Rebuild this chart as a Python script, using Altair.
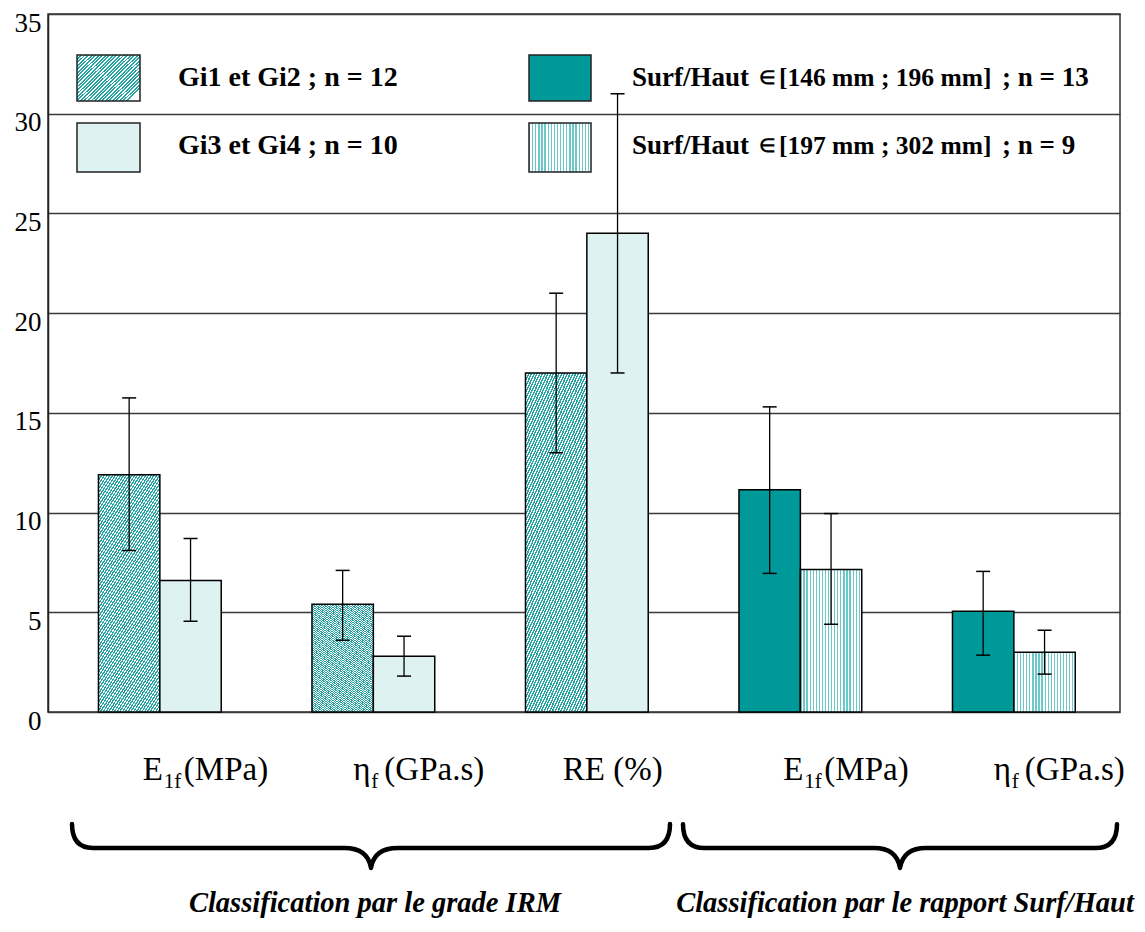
import altair as alt
import pandas as pd

# ---------------- data ----------------
groups = ["E1f_IRM", "eta_IRM", "RE_IRM", "E1f_SH", "eta_SH"]

series_names = [
    "Gi1 et Gi2 ; n = 12",
    "Gi3 et Gi4 ; n = 10",
    "Surf/Haut ∈ [146 mm ; 196 mm] ; n = 13",
    "Surf/Haut ∈ [197 mm ; 302 mm] ; n = 9",
]
series_groups = [groups[0:3], groups[0:3], groups[3:5], groups[3:5]]
series_slot = ["a", "b", "a", "b"]

gi12_mean = [11.9, 5.4, 17.0]
gi12_low = [8.1, 3.6, 13.0]
gi12_high = [15.75, 7.1, 21.0]

gi34_mean = [6.6, 2.8, 24.0]
gi34_low = [4.55, 1.8, 17.0]
gi34_high = [8.7, 3.8, 31.0]

sh1_mean = [11.15, 5.05]
sh1_low = [6.95, 2.85]
sh1_high = [15.3, 7.05]

sh2_mean = [7.15, 3.0]
sh2_low = [4.4, 1.9]
sh2_high = [9.95, 4.1]

means = [gi12_mean, gi34_mean, sh1_mean, sh2_mean]
lows = [gi12_low, gi34_low, sh1_low, sh2_low]
highs = [gi12_high, gi34_high, sh1_high, sh2_high]

y_ticks = [0, 5, 10, 15, 20, 25, 30, 35]

xlabel_main = ["E", "η", "RE (%)", "E", "η"]
xlabel_sub = ["1f", "f", "", "1f", "f"]
xlabel_unit = ["(MPa)", "(GPa.s)", "", "(MPa)", "(GPa.s)"]

legend_left = ["Gi1 et Gi2 ; n = 12", "Gi3 et Gi4 ; n = 10"]
legend_right_head = ["Surf/Haut", "Surf/Haut"]
legend_right_sym = ["∈", "∈"]
legend_right_range = ["[146 mm ; 196 mm]", "[197 mm ; 302 mm]"]
legend_right_n = ["; n = 13", "; n = 9"]

brace_labels = ["Classification par le grade IRM",
                "Classification par le rapport Surf/Haut"]

rows = []
for s, name in enumerate(series_names):
    for j, g in enumerate(series_groups[s]):
        rows.append({"series": name, "group": g, "slot": series_slot[s],
                     "mean": means[s][j], "low": lows[s][j], "high": highs[s][j]})
df = pd.DataFrame(rows)

# ---------------- styles ----------------
FONT = "Liberation Serif, Liberation Sans"
TEAL = "#009999"


def stripes(c1, c2, period, frac, x2, y2, tmax):
    stops = []
    t = 0.0
    while t < tmax:
        a = round(t, 5)
        b = round(min(t + period * frac, 1.0), 5)
        c = round(min(t + period, 1.0), 5)
        stops += [{"offset": a, "color": c1}, {"offset": b, "color": c1},
                  {"offset": b, "color": c2}, {"offset": c, "color": c2}]
        t += period
    return {"gradient": "linear", "x1": 0, "y1": 0, "x2": x2, "y2": y2, "stops": stops}


diag_bar = stripes("#26a3a3", "#ffffff", 0.0062, 0.55, 1, 2.5, 0.5)
diag_leg = stripes("#26a3a3", "#ffffff", 0.036, 0.55, 1, 0.75, 1.0)
vert_fill = stripes("#6cc9c9", "#ffffff", 0.05, 0.4, 1, 0, 1.0)
bar_fills = [diag_bar, "#def2f2", TEAL, vert_fill]
leg_fills = [diag_leg, "#def2f2", TEAL, vert_fill]

xscale = alt.Scale(type="band", domain=groups, paddingInner=0.425,
                   paddingOuter=0.223, align=0.53)
yscale = alt.Scale(domain=[0, 35], nice=False, zero=True)
yaxis = alt.Axis(values=y_ticks, grid=True, gridColor="#3a3a3a", gridWidth=1.3,
                 domainColor="#222222", domainWidth=1.5, ticks=False,
                 labelFont=FONT, labelFontSize=27, labelColor="black",
                 labelPadding=7, labelBaseline="middle", labelOffset=9, title=None)
X = alt.X("group:N", scale=xscale, axis=None)
XO = alt.XOffset("slot:N", scale=alt.Scale(domain=["a", "b"], paddingInner=0, paddingOuter=0))

layers = []

# bars
for s, name in enumerate(series_names):
    d = df[df["series"] == name]
    layers.append(
        alt.Chart(d).mark_bar(fill=bar_fills[s], stroke="black", strokeWidth=1.5)
        .encode(x=X, xOffset=XO, y=alt.Y("mean:Q", scale=yscale, axis=yaxis))
    )

# error bars
layers.append(
    alt.Chart(df).mark_rule(color="black", strokeWidth=1.3)
    .encode(x=X, xOffset=XO, y=alt.Y("low:Q", scale=yscale, axis=yaxis), y2="high:Q")
)
for f in ["low", "high"]:
    layers.append(
        alt.Chart(df).mark_tick(color="black", thickness=1.5, size=14, opacity=1)
        .encode(x=X, xOffset=XO, y=alt.Y(f + ":Q", scale=yscale, axis=yaxis))
    )

# x category labels (with subscripts)
offsets = {"E": (-17, 4, 24), "η": (-20, -2, 11), "RE (%)": (-24, 0, 0)}
for i, g in enumerate(groups):
    o = offsets[xlabel_main[i]]
    pieces = [(xlabel_main[i], o[0], 33, 766), (xlabel_sub[i], o[1], 21, 774),
              (xlabel_unit[i], o[2], 33, 766)]
    for txt, dx, fs, yy in pieces:
        if not txt:
            continue
        layers.append(
            alt.Chart(pd.DataFrame({"group": [g], "t": [txt]}))
            .mark_text(align="left", baseline="alphabetic", dx=dx, font=FONT,
                       fontSize=fs, color="black")
            .encode(x=X, y=alt.value(yy), text="t:N")
        )

# legend (drawn inside plot area)
leg_rows_y = [(41, 87, 64), (109, 158, 132)]
for k in range(2):
    y1, y2, yt = leg_rows_y[k]
    # left column
    layers.append(
        alt.Chart(pd.DataFrame({"t": [legend_left[k]]}))
        .mark_rect(fill=leg_fills[k], stroke="#222222", strokeWidth=1.5)
        .encode(x=alt.value(29), x2=alt.value(92), y=alt.value(y1), y2=alt.value(y2))
    )
    layers.append(
        alt.Chart(pd.DataFrame({"t": [legend_left[k]]}))
        .mark_text(align="left", baseline="middle", font=FONT, fontSize=28,
                   fontWeight="bold", color="black")
        .encode(x=alt.value(130), y=alt.value(yt), text="t:N")
    )
    # right column
    layers.append(
        alt.Chart(pd.DataFrame({"t": [legend_right_head[k]]}))
        .mark_rect(fill=leg_fills[k + 2], stroke="#222222", strokeWidth=1.5)
        .encode(x=alt.value(481), x2=alt.value(543), y=alt.value(y1), y2=alt.value(y2))
    )
    for txt, xx, fs in [(legend_right_head[k], 584, 27),
                        (legend_right_sym[k], 711, 19),
                        (legend_right_range[k], 731, 25.5),
                        (legend_right_n[k], 954, 27)]:
        layers.append(
            alt.Chart(pd.DataFrame({"t": [txt]}))
            .mark_text(align="left", baseline="middle", font=FONT, fontSize=fs,
                       fontWeight="bold", color="black")
            .encode(x=alt.value(xx), y=alt.value(yt), text="t:N")
        )

# curly braces under the groups
brace1 = "M-1,-0.08 Q-1,0 -0.93,0 L-0.09,0 Q-0.01,0 0,0.067 Q0.01,0 0.09,0 L0.93,0 Q1,0 1,-0.08"
brace2 = "M-1,-0.11 Q-1,0 -0.9,0 L-0.12,0 Q-0.015,0 0,0.092 Q0.015,0 0.12,0 L0.9,0 Q1,0 1,-0.11"
for path, cx, size, lbl, tx in [(brace1, 323, 598 ** 2, brace_labels[0], 327),
                                (brace2, 852, 434 ** 2, brace_labels[1], 857)]:
    layers.append(
        alt.Chart(pd.DataFrame({"t": [lbl]}))
        .mark_point(shape=path, filled=False, color="black", strokeWidth=4.5,
                    opacity=1, strokeCap="round", strokeJoin="round")
        .encode(x=alt.value(cx), y=alt.value(834), size=alt.value(size))
    )
    layers.append(
        alt.Chart(pd.DataFrame({"t": [lbl]}))
        .mark_text(align="center", baseline="alphabetic", font=FONT, fontSize=28.5,
                   fontWeight="bold", fontStyle="italic", color="black")
        .encode(x=alt.value(tx), y=alt.value(898), text="t:N")
    )

chart = (
    alt.layer(*layers)
    .properties(width=1072, height=698,
                padding={"left": 40, "top": 6, "right": 17, "bottom": 206},
                autosize=alt.AutoSizeParams(type="none"))
    .configure_view(stroke="#333333", strokeWidth=1.5)
)

chart.save("out.html", embed_options={"renderer": "svg", "actions": False})
